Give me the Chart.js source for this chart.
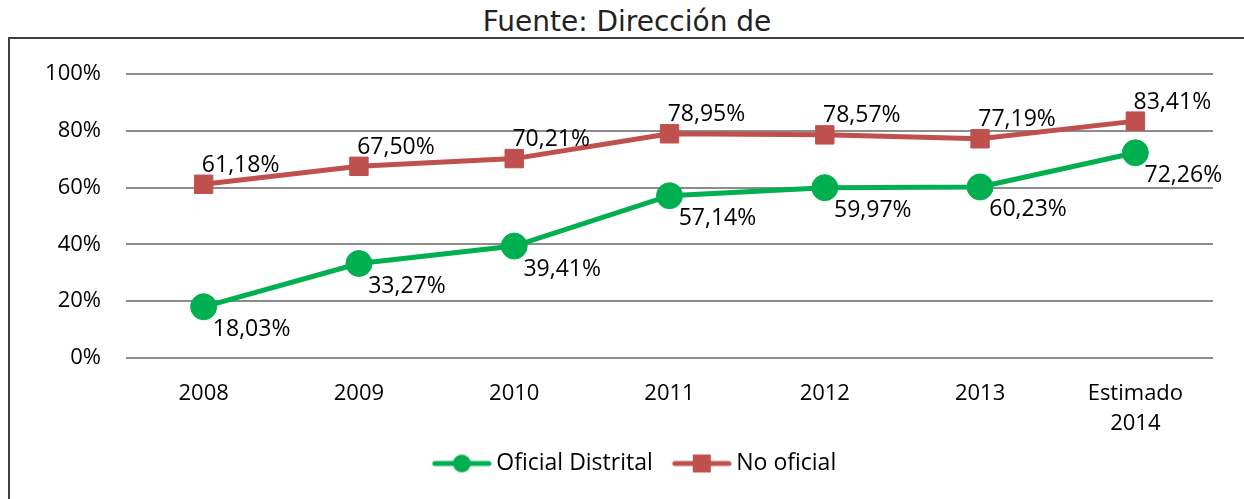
<!DOCTYPE html>
<html>
<head>
<meta charset="utf-8">
<script src="https://cdn.jsdelivr.net/npm/chart.js@4"></script>
<style>
  html, body { margin: 0; padding: 0; background: #fff; overflow: hidden; }
  #frame { position: absolute; left: 8px; top: 37px; width: 1300px; height: 600px; border: 2px solid #404040; }
  #title { position: absolute; left: 0; top: 5px; width: 1254px; text-align: center;
           font: 28px "DejaVu Sans", sans-serif; color: #222; }
  #wrap { position: absolute; left: 0; top: 0; width: 1244px; height: 499px; }
</style>
</head>
<body>
<div id="frame"></div>
<div id="title">Fuente: Dirección de</div>
<div id="wrap"><canvas id="myChart"></canvas></div>
<script>
// data
var years = ["2008", "2009", "2010", "2011", "2012", "2013", ["Estimado", "2014"]];
var oficialDistrital = [18.03, 33.27, 39.41, 57.14, 59.97, 60.23, 72.26];
var noOficial = [61.18, 67.50, 70.21, 78.95, 78.57, 77.19, 83.41];
var yTicks = [0, 20, 40, 60, 80, 100];

var GREEN = "#00B050";
var RED = "#C0504D";
var FONT = "'Open Sans', sans-serif";

// legend icon: short line with the marker on it
function legendIcon(color, shape) {
  var c = document.createElement("canvas");
  c.width = 60; c.height = 24;
  var g = c.getContext("2d");
  g.strokeStyle = color; g.lineWidth = 5; g.lineCap = "round";
  g.beginPath(); g.moveTo(3, 12); g.lineTo(57, 12); g.stroke();
  g.fillStyle = color;
  if (shape === "circle") {
    g.beginPath(); g.arc(30, 12, 9, 0, Math.PI * 2); g.fill();
  } else {
    g.fillRect(21, 3, 18, 18);
  }
  return c;
}

// value labels beside each point
var valueLabels = {
  id: "valueLabels",
  afterDatasetsDraw: function (chart) {
    var ctx = chart.ctx;
    ctx.save();
    ctx.font = "23px " + FONT;
    ctx.fillStyle = "#000";
    ctx.textAlign = "center";
    ctx.textBaseline = "middle";
    chart.data.datasets.forEach(function (ds, i) {
      var off = ds.labelOffset;
      chart.getDatasetMeta(i).data.forEach(function (pt, j) {
        var txt = ds.data[j].toFixed(2).replace(".", ",") + "%";
        ctx.fillText(txt, pt.x + off[0], pt.y + off[1]);
      });
    });
    ctx.restore();
  }
};

// nudge the legend so it sits centred under the plot, as in the original
var legendNudge = {
  id: "legendNudge",
  afterLayout: function (chart) {
    var lg = chart.legend;
    if (!lg) return;
    lg.left += 31; lg.right += 31;
    lg.top -= 14; lg.bottom -= 14;
  }
};

var ctx = document.getElementById("myChart").getContext("2d");

var myChart = new Chart(ctx, {
  type: "line",
  data: {
    labels: years,
    datasets: [
      {
        label: "Oficial Distrital",
        data: oficialDistrital,
        borderColor: GREEN,
        backgroundColor: GREEN,
        borderWidth: 5,
        pointStyle: "circle",
        pointRadius: 13,
        pointBorderWidth: 1,
        pointHoverRadius: 13,
        labelOffset: [48, 23],
      },
      {
        label: "No oficial",
        data: noOficial,
        borderColor: RED,
        backgroundColor: RED,
        borderWidth: 5,
        pointStyle: "rect",
        pointRadius: 13,
        pointBorderWidth: 1,
        pointHoverRadius: 13,
        labelOffset: [37, -19],
      },
    ],
  },
  options: {
    responsive: true,
    maintainAspectRatio: false,
    animation: false,
    layout: { padding: { top: 74, right: 31, bottom: 0, left: 0 } },
    scales: {
      x: {
        offset: true,
        grid: { display: false },
        border: { display: false },
        ticks: { color: "#000", font: { family: FONT, size: 22, lineHeight: 1.4 }, padding: 12, maxRotation: 0 },
        afterFit: function (s) { s.height = 82; },
      },
      y: {
        min: 0,
        max: 100,
        afterBuildTicks: function (s) { s.ticks = yTicks.map(function (v) { return { value: v }; }); },
        grid: { color: "#8c8c8c", lineWidth: 2, drawTicks: false },
        border: { display: false },
        ticks: {
          color: "#000",
          font: { family: FONT, size: 22 },
          padding: 25,
          callback: function (v) { return v + "%"; },
        },
        afterFit: function (s) { s.width = 126; },
      },
    },
    plugins: {
      tooltip: { enabled: false },
      legend: {
        position: "bottom",
        labels: {
          color: "#000",
          font: { family: FONT, size: 23 },
          usePointStyle: true,
          pointStyleWidth: 46,
          padding: 26,
          generateLabels: function (chart) {
            return chart.data.datasets.map(function (ds, i) {
              return {
                text: ds.label,
                datasetIndex: i,
                fontColor: "#000",
                pointStyle: legendIcon(ds.borderColor, ds.pointStyle),
                lineWidth: 0,
              };
            });
          },
        },
      },
    },
  },
  plugins: [valueLabels, legendNudge],
});
</script>
</body>
</html>
